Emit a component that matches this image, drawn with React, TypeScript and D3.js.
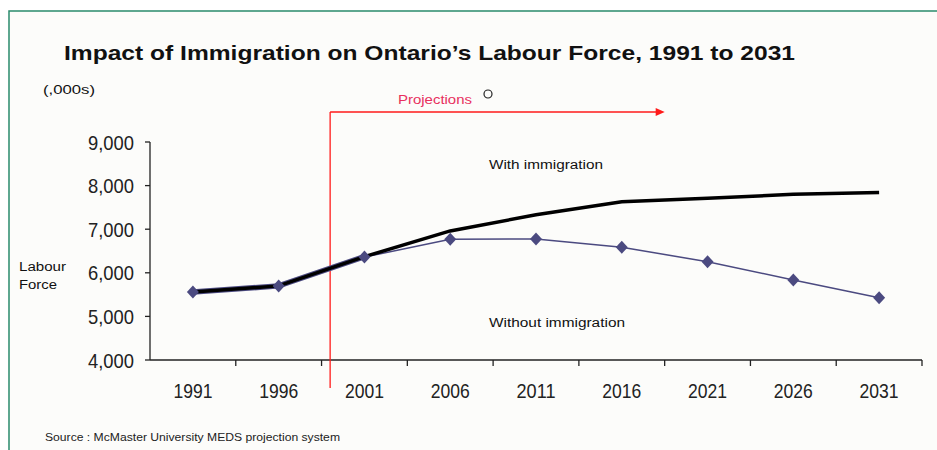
import React from "react";
import * as d3 from "d3";

const years = ["1991", "1996", "2001", "2006", "2011", "2016", "2021", "2026", "2031"];
const withImmigration = [5560, 5700, 6370, 6960, 7330, 7630, 7710, 7800, 7840];
const withoutImmigration = [5560, 5700, 6360, 6770, 6775, 6585, 6255, 5835, 5430];
const yTicks = [4000, 5000, 6000, 7000, 8000, 9000];

const W = 937;
const H = 450;

export default function App() {
  const x = d3.scaleBand<string>().domain(years).range([150, 922]).padding(0);
  const bw = x.bandwidth();
  const cx = (i: number) => (x(years[i]) as number) + bw / 2;
  const y = d3.scaleLinear().domain([4000, 9000]).range([360, 142]);
  const fmt = d3.format(",");

  const line = d3
    .line<number>()
    .x((_, i) => cx(i))
    .y((d) => y(d));

  const projX = (x("1996") as number) + bw * 1.1;
  const arrowEnd = (x("2016") as number) + bw;
  const projY = 112;
  const font = "Liberation Sans, Arial, sans-serif";
  const purple = "#4b4a80";
  const red = "#ff1a1a";

  const diamond = (px: number, py: number) => {
    const sx = 6;
    const sy = 6.5;
    return `M${px},${py - sy}L${px + sx},${py}L${px},${py + sy}L${px - sx},${py}Z`;
  };

  return (
    <div style={{ position: "absolute", left: 0, top: 0 }}>
      <svg width={W} height={H} style={{ display: "block", background: "#ffffff" }} fontFamily={font}>
        <rect x={9} y={11} width={W} height={H} fill="#fcfcfa" stroke="#2a8a6c" strokeWidth={1.5} />
        <text x={64} y={60} fontSize={20.5} fontWeight="bold" fill="#111" textLength={731} lengthAdjust="spacingAndGlyphs">
          Impact of Immigration on Ontario’s Labour Force, 1991 to 2031
        </text>
        <text x={43} y={94} fontSize={12} fill="#111" textLength={52} lengthAdjust="spacingAndGlyphs">(,000s)</text>
        <text x={19} y={271} fontSize={12} fill="#111" textLength={47} lengthAdjust="spacingAndGlyphs">Labour</text>
        <text x={19} y={289} fontSize={12} fill="#111" textLength={38} lengthAdjust="spacingAndGlyphs">Force</text>

        {/* axes */}
        <line x1={150} x2={150} y1={y(9000)} y2={y(4000)} stroke="#222" strokeWidth={1.3} />
        <line x1={150} x2={922} y1={y(4000)} y2={y(4000)} stroke="#222" strokeWidth={1.3} />
        {yTicks.map((t) => (
          <g key={t}>
            <line x1={145} x2={150} y1={y(t)} y2={y(t)} stroke="#222" strokeWidth={1.3} />
            <text x={134} y={y(t) + 7.5} fontSize={21} fill="#222" textAnchor="end" textLength={46} lengthAdjust="spacingAndGlyphs">
              {fmt(t)}
            </text>
          </g>
        ))}
        {years.map((yr, i) => (
          <g key={yr}>
            <line x1={(x(yr) as number) + bw} x2={(x(yr) as number) + bw} y1={360} y2={366} stroke="#222" strokeWidth={1.3} />
            <text x={cx(i)} y={398} fontSize={21} fill="#222" textAnchor="middle" textLength={39} lengthAdjust="spacingAndGlyphs">
              {yr}
            </text>
          </g>
        ))}

        {/* projections annotation */}
        <line x1={projX} x2={projX} y1={projY} y2={388} stroke={red} strokeWidth={1.3} />
        <line x1={projX} x2={arrowEnd - 8} y1={projY} y2={projY} stroke={red} strokeWidth={1.3} />
        <path d={`M${arrowEnd},${projY}L${arrowEnd - 9},${projY - 4}L${arrowEnd - 9},${projY + 4}Z`} fill={red} />
        <text x={398} y={104} fontSize={12} fill="#e8305e" textLength={74} lengthAdjust="spacingAndGlyphs">Projections</text>
        <circle cx={488} cy={94} r={4} fill="none" stroke="#222" strokeWidth={1.2} />

        {/* series */}
        <path d={line(withoutImmigration) as string} fill="none" stroke={purple} strokeWidth={1.5} />
        <path d={line(withImmigration.slice(0, 3)) as string} fill="none" stroke={purple} strokeWidth={5.5} />
        <path d={line(withImmigration) as string} fill="none" stroke="#000" strokeWidth={3.5} />
        {withoutImmigration.map((v, i) => (
          <path key={i} d={diamond(cx(i), y(v))} fill={purple} />
        ))}

        <text x={489} y={169} fontSize={12.5} fill="#111" textLength={114} lengthAdjust="spacingAndGlyphs">With immigration</text>
        <text x={489} y={327} fontSize={12.5} fill="#111" textLength={136} lengthAdjust="spacingAndGlyphs">Without immigration</text>
        <text x={45} y={441} fontSize={10.5} fill="#222" textLength={295} lengthAdjust="spacingAndGlyphs">
          Source : McMaster University MEDS projection system
        </text>
      </svg>
    </div>
  );
}
